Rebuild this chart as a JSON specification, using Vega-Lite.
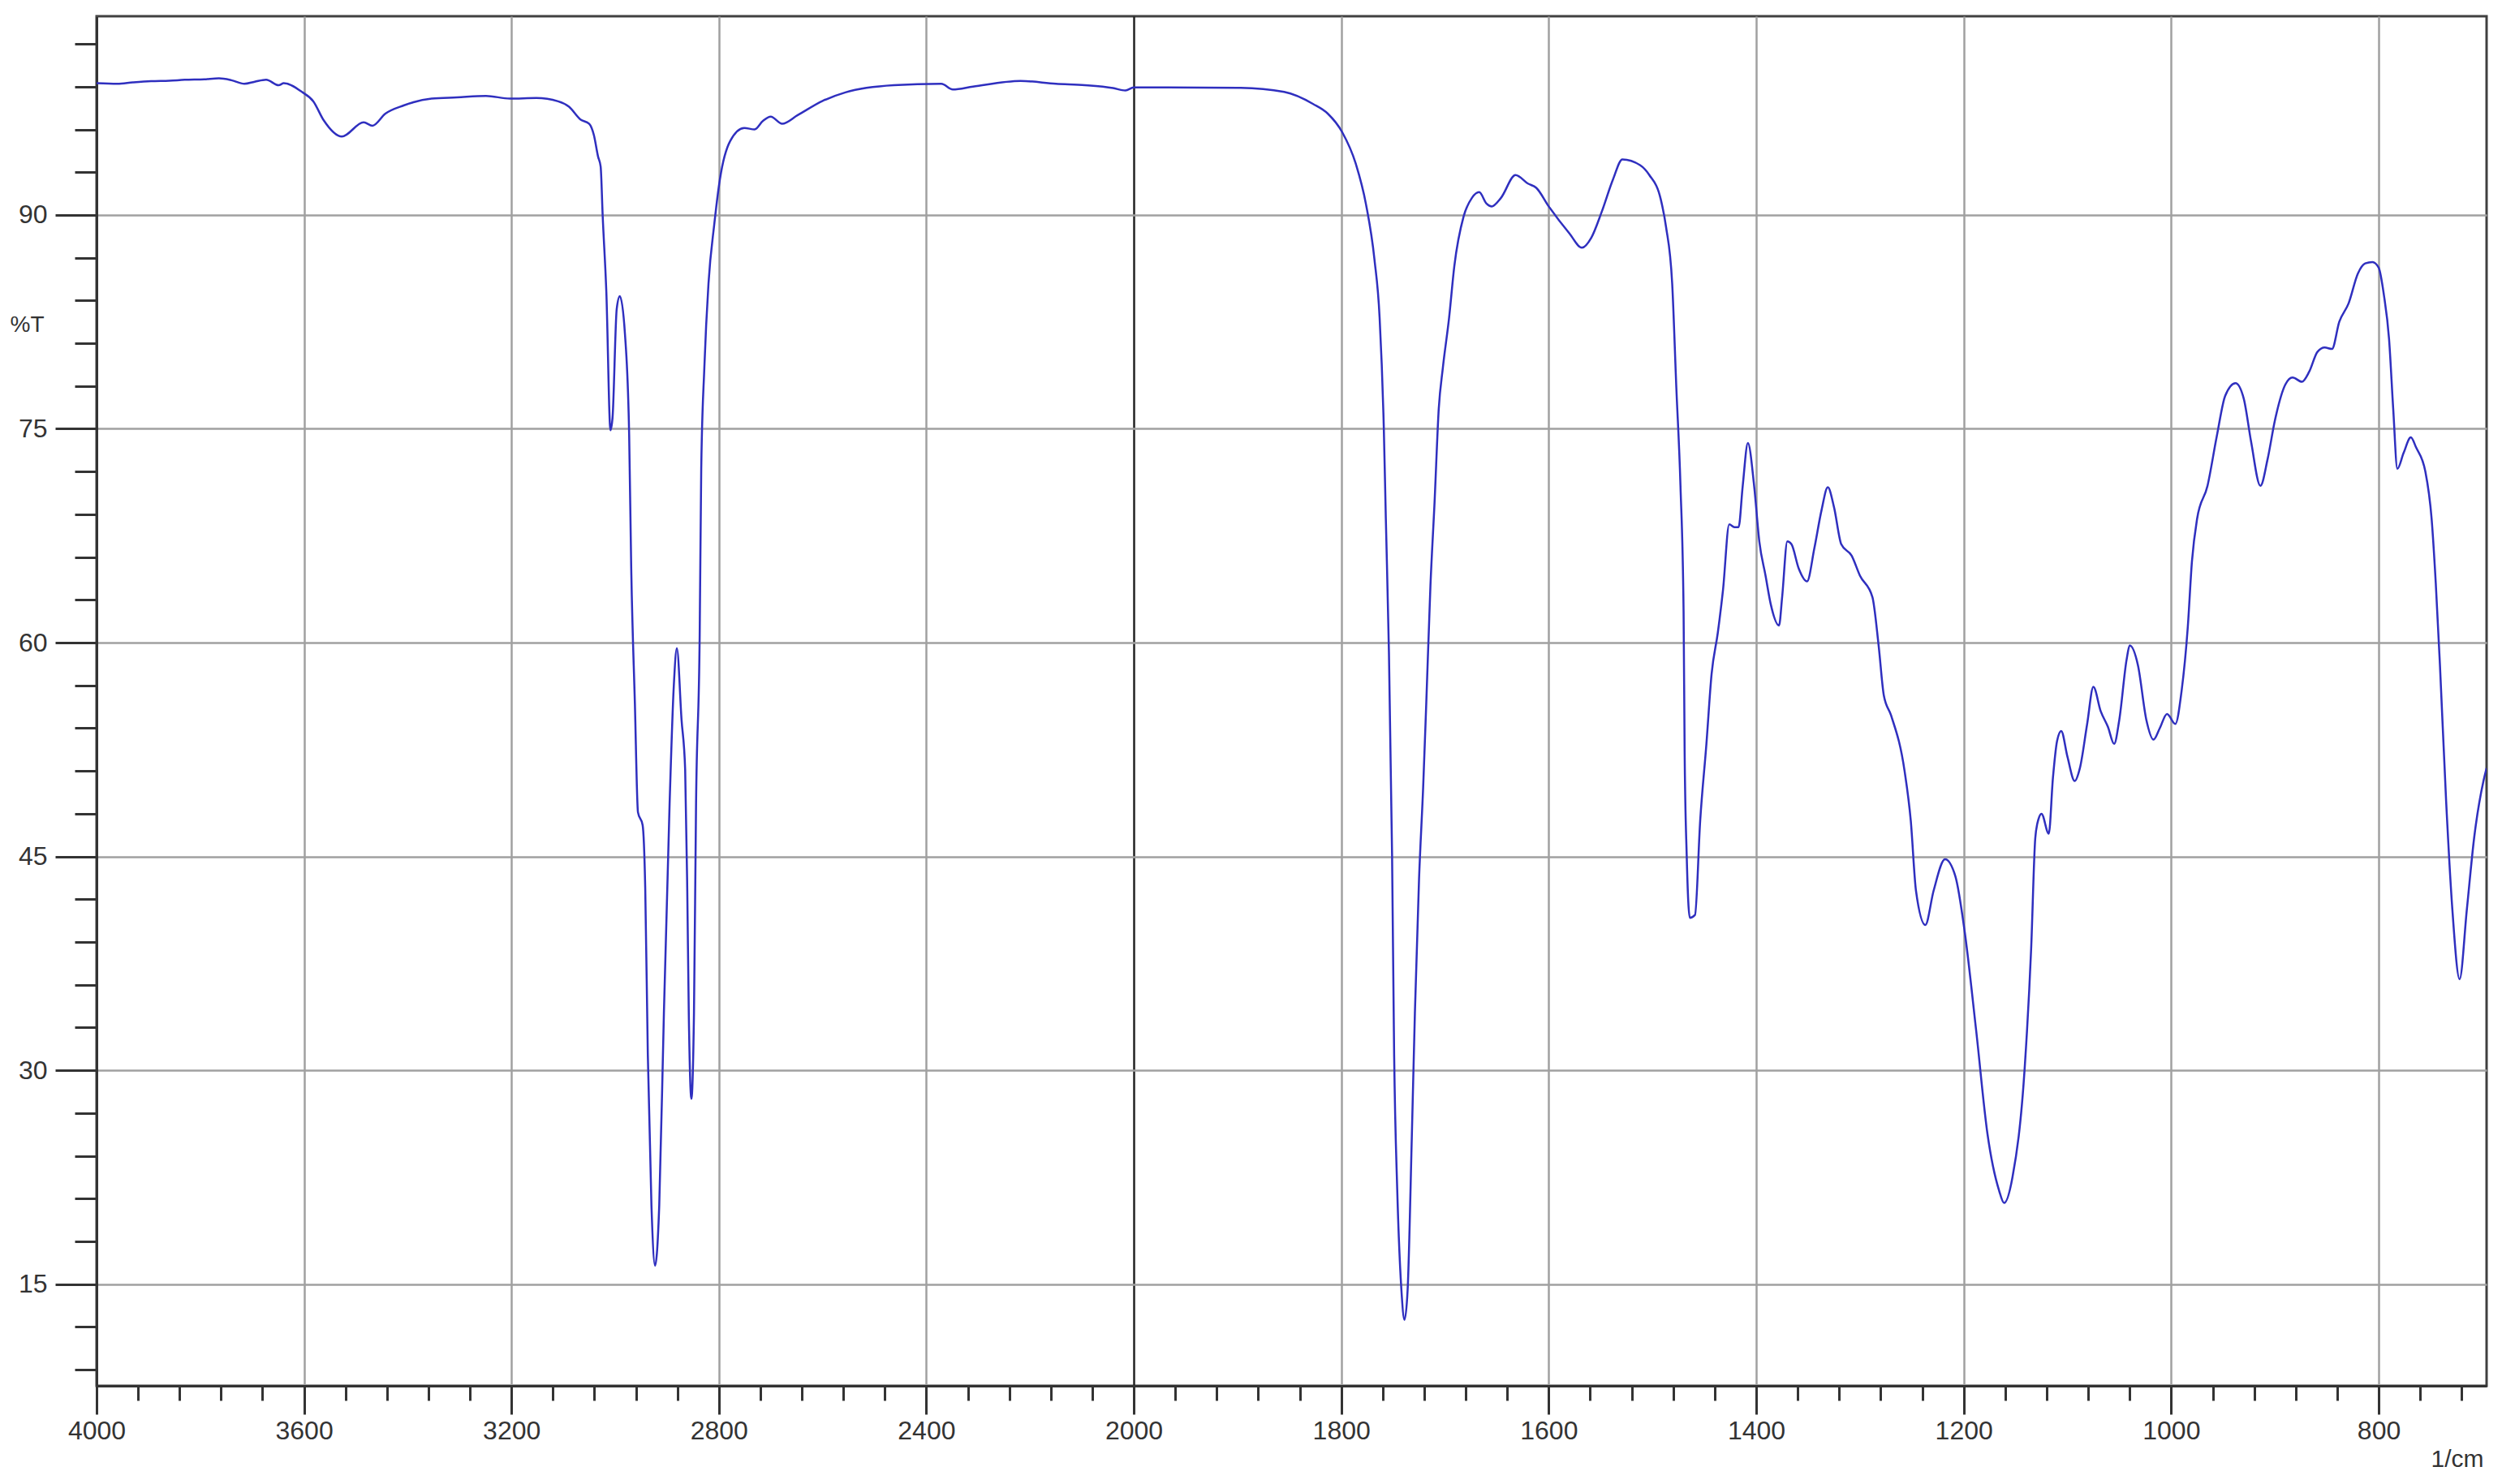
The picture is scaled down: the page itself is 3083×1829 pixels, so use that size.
{
  "$schema": "https://vega.github.io/schema/vega-lite/v6.json",
  "width": 2945,
  "height": 1688,
  "autosize": {"type": "none"},
  "padding": {"left": 119, "top": 20, "right": 19, "bottom": 121},
  "background": "white",
  "config": {
    "view": {"stroke": "#404040", "strokeWidth": 3},
    "axis": {
      "labelFont": "Liberation Sans",
      "labelFontSize": 32,
      "labelColor": "#333333",
      "titleFont": "Liberation Sans",
      "titleFontWeight": "normal",
      "titleColor": "#333333",
      "domainColor": "#333333",
      "domainWidth": 3,
      "tickColor": "#333333",
      "tickWidth": 3,
      "labelOverlap": false,
      "labelBound": false,
      "labelFlush": false
    }
  },
  "data": {
    "values": [
      {"wn": 4000, "T": 99.24}, {"wn": 3960, "T": 99.2}, {"wn": 3930, "T": 99.3}, {"wn": 3895, "T": 99.39}, {"wn": 3860, "T": 99.42},
      {"wn": 3830, "T": 99.48}, {"wn": 3792, "T": 99.52}, {"wn": 3764, "T": 99.58}, {"wn": 3740, "T": 99.45}, {"wn": 3715, "T": 99.2},
      {"wn": 3695, "T": 99.35}, {"wn": 3673, "T": 99.49}, {"wn": 3649, "T": 99.1}, {"wn": 3639, "T": 99.24}, {"wn": 3604, "T": 98.63},
      {"wn": 3582, "T": 97.97}, {"wn": 3562, "T": 96.64}, {"wn": 3527, "T": 95.5}, {"wn": 3485, "T": 96.5}, {"wn": 3468, "T": 96.26},
      {"wn": 3443, "T": 97.11}, {"wn": 3408, "T": 97.68}, {"wn": 3354, "T": 98.16}, {"wn": 3305, "T": 98.25}, {"wn": 3249, "T": 98.35},
      {"wn": 3203, "T": 98.16}, {"wn": 3152, "T": 98.2}, {"wn": 3110, "T": 97.97}, {"wn": 3089, "T": 97.59}, {"wn": 3067, "T": 96.7},
      {"wn": 3050, "T": 96.39}, {"wn": 3041, "T": 95.6}, {"wn": 3033, "T": 94.1}, {"wn": 3028, "T": 93.4}, {"wn": 3024, "T": 89.9},
      {"wn": 3017, "T": 84.6}, {"wn": 3009, "T": 74.9}, {"wn": 3005, "T": 75.8}, {"wn": 2997, "T": 83.4}, {"wn": 2991, "T": 84.3},
      {"wn": 2981, "T": 81.6}, {"wn": 2973, "T": 74.6}, {"wn": 2969, "T": 65.2}, {"wn": 2962, "T": 55.8}, {"wn": 2956, "T": 48.1},
      {"wn": 2947, "T": 47.2}, {"wn": 2942, "T": 42.8}, {"wn": 2937, "T": 31.1}, {"wn": 2930, "T": 20.5}, {"wn": 2923, "T": 16.3},
      {"wn": 2915, "T": 20.5}, {"wn": 2906, "T": 34.0}, {"wn": 2895, "T": 48.7}, {"wn": 2887, "T": 56.9}, {"wn": 2881, "T": 59.6},
      {"wn": 2872, "T": 54.6}, {"wn": 2865, "T": 51.1}, {"wn": 2861, "T": 42.8}, {"wn": 2858, "T": 34.0}, {"wn": 2853, "T": 28.0},
      {"wn": 2848, "T": 34.0}, {"wn": 2844, "T": 48.7}, {"wn": 2837, "T": 60.5}, {"wn": 2834, "T": 72.2}, {"wn": 2828, "T": 79.3},
      {"wn": 2820, "T": 85.2}, {"wn": 2809, "T": 89.3}, {"wn": 2798, "T": 92.5}, {"wn": 2778, "T": 95.2}, {"wn": 2751, "T": 96.1},
      {"wn": 2731, "T": 96.0}, {"wn": 2715, "T": 96.6}, {"wn": 2700, "T": 96.9}, {"wn": 2678, "T": 96.4}, {"wn": 2648, "T": 97.0},
      {"wn": 2600, "T": 98.0}, {"wn": 2556, "T": 98.6}, {"wn": 2463, "T": 99.1}, {"wn": 2371, "T": 99.2}, {"wn": 2349, "T": 98.8},
      {"wn": 2310, "T": 99.0}, {"wn": 2218, "T": 99.4}, {"wn": 2150, "T": 99.2}, {"wn": 2094, "T": 99.1}, {"wn": 2040, "T": 98.9},
      {"wn": 2016, "T": 98.73}, {"wn": 2000, "T": 98.95}, {"wn": 1967, "T": 98.95}, {"wn": 1897, "T": 98.92}, {"wn": 1855, "T": 98.63},
      {"wn": 1827, "T": 97.78}, {"wn": 1813, "T": 97.11}, {"wn": 1799, "T": 95.8}, {"wn": 1786, "T": 93.6}, {"wn": 1776, "T": 90.7},
      {"wn": 1768, "T": 86.9}, {"wn": 1763, "T": 82.8}, {"wn": 1759, "T": 75.2}, {"wn": 1757, "T": 68.7}, {"wn": 1754, "T": 59.3},
      {"wn": 1751, "T": 45.2}, {"wn": 1749, "T": 31.1}, {"wn": 1746, "T": 21.6}, {"wn": 1742, "T": 14.6}, {"wn": 1739, "T": 12.5},
      {"wn": 1736, "T": 14.6}, {"wn": 1732, "T": 25.2}, {"wn": 1729, "T": 34.0}, {"wn": 1725, "T": 43.4}, {"wn": 1721, "T": 49.9},
      {"wn": 1718, "T": 55.8}, {"wn": 1714, "T": 64.0}, {"wn": 1710, "T": 69.9}, {"wn": 1706, "T": 76.4}, {"wn": 1702, "T": 79.3},
      {"wn": 1696, "T": 82.8}, {"wn": 1691, "T": 86.4}, {"wn": 1682, "T": 89.9}, {"wn": 1674, "T": 91.2}, {"wn": 1667, "T": 91.6},
      {"wn": 1660, "T": 90.8}, {"wn": 1655, "T": 90.6}, {"wn": 1646, "T": 91.2}, {"wn": 1632, "T": 92.8}, {"wn": 1620, "T": 92.2},
      {"wn": 1612, "T": 91.9}, {"wn": 1600, "T": 90.6}, {"wn": 1580, "T": 88.7}, {"wn": 1568, "T": 87.7}, {"wn": 1559, "T": 88.4},
      {"wn": 1549, "T": 90.2}, {"wn": 1538, "T": 92.5}, {"wn": 1529, "T": 93.9}, {"wn": 1512, "T": 93.5}, {"wn": 1503, "T": 92.8},
      {"wn": 1492, "T": 91.1}, {"wn": 1487, "T": 89.2}, {"wn": 1481, "T": 85.2}, {"wn": 1477, "T": 77.9}, {"wn": 1473, "T": 71.0},
      {"wn": 1470, "T": 62.2}, {"wn": 1469, "T": 52.4}, {"wn": 1467, "T": 45.1}, {"wn": 1464, "T": 40.7}, {"wn": 1459, "T": 40.9},
      {"wn": 1454, "T": 47.5}, {"wn": 1448, "T": 52.9}, {"wn": 1443, "T": 57.8}, {"wn": 1437, "T": 60.7}, {"wn": 1432, "T": 63.7},
      {"wn": 1426, "T": 68.3}, {"wn": 1421, "T": 68.1}, {"wn": 1417, "T": 68.1}, {"wn": 1413, "T": 71.0}, {"wn": 1408, "T": 74.0},
      {"wn": 1402, "T": 71.0}, {"wn": 1397, "T": 67.1}, {"wn": 1391, "T": 64.7}, {"wn": 1386, "T": 62.7}, {"wn": 1378, "T": 61.2},
      {"wn": 1375, "T": 63.2}, {"wn": 1370, "T": 67.1}, {"wn": 1366, "T": 66.9}, {"wn": 1359, "T": 65.2}, {"wn": 1351, "T": 64.3},
      {"wn": 1344, "T": 66.6}, {"wn": 1337, "T": 69.3}, {"wn": 1331, "T": 70.9}, {"wn": 1325, "T": 69.5}, {"wn": 1318, "T": 66.9},
      {"wn": 1308, "T": 66.1}, {"wn": 1300, "T": 64.7}, {"wn": 1288, "T": 63.2}, {"wn": 1282, "T": 59.8}, {"wn": 1277, "T": 56.3},
      {"wn": 1270, "T": 54.9}, {"wn": 1257, "T": 51.0}, {"wn": 1251, "T": 47.5}, {"wn": 1246, "T": 42.6}, {"wn": 1237, "T": 40.2},
      {"wn": 1229, "T": 42.6}, {"wn": 1218, "T": 44.8}, {"wn": 1208, "T": 43.6}, {"wn": 1199, "T": 39.7}, {"wn": 1188, "T": 32.8},
      {"wn": 1177, "T": 25.5}, {"wn": 1166, "T": 21.6}, {"wn": 1161, "T": 20.7}, {"wn": 1153, "T": 22.5}, {"wn": 1141, "T": 30.4},
      {"wn": 1135, "T": 38.5}, {"wn": 1131, "T": 46.3}, {"wn": 1128, "T": 47.6}, {"wn": 1125, "T": 48.0}, {"wn": 1118, "T": 46.6},
      {"wn": 1114, "T": 50.5}, {"wn": 1110, "T": 53.1}, {"wn": 1106, "T": 53.8}, {"wn": 1100, "T": 52.0}, {"wn": 1093, "T": 50.3},
      {"wn": 1088, "T": 51.2}, {"wn": 1081, "T": 54.3}, {"wn": 1075, "T": 56.9}, {"wn": 1068, "T": 55.2}, {"wn": 1061, "T": 54.1},
      {"wn": 1055, "T": 52.9}, {"wn": 1050, "T": 54.6}, {"wn": 1043, "T": 58.8}, {"wn": 1040, "T": 59.8}, {"wn": 1032, "T": 58.4},
      {"wn": 1024, "T": 54.6}, {"wn": 1017, "T": 53.2}, {"wn": 1011, "T": 54.0}, {"wn": 1004, "T": 55.0}, {"wn": 996, "T": 54.3},
      {"wn": 990, "T": 56.6}, {"wn": 984, "T": 61.1}, {"wn": 980, "T": 65.7}, {"wn": 975, "T": 68.7}, {"wn": 965, "T": 71.0},
      {"wn": 956, "T": 74.5}, {"wn": 948, "T": 77.3}, {"wn": 938, "T": 78.2}, {"wn": 930, "T": 77.1}, {"wn": 923, "T": 74.1},
      {"wn": 914, "T": 71.0}, {"wn": 907, "T": 72.9}, {"wn": 900, "T": 75.6}, {"wn": 890, "T": 78.1}, {"wn": 883, "T": 78.6},
      {"wn": 874, "T": 78.3}, {"wn": 867, "T": 79.0}, {"wn": 859, "T": 80.4}, {"wn": 852, "T": 80.7}, {"wn": 845, "T": 80.6},
      {"wn": 838, "T": 82.5}, {"wn": 829, "T": 83.8}, {"wn": 820, "T": 85.9}, {"wn": 813, "T": 86.6}, {"wn": 806, "T": 86.7},
      {"wn": 800, "T": 86.3}, {"wn": 795, "T": 84.4}, {"wn": 790, "T": 81.3}, {"wn": 786, "T": 76.4}, {"wn": 782, "T": 72.2},
      {"wn": 776, "T": 73.3}, {"wn": 769, "T": 74.4}, {"wn": 764, "T": 73.7}, {"wn": 755, "T": 72.0}, {"wn": 749, "T": 68.7},
      {"wn": 745, "T": 64.2}, {"wn": 741, "T": 58.5}, {"wn": 735, "T": 48.9}, {"wn": 729, "T": 41.3}, {"wn": 722, "T": 36.4},
      {"wn": 715, "T": 41.3}, {"wn": 708, "T": 46.3}, {"wn": 699, "T": 50.3}, {"wn": 696, "T": 51.2}
    ]
  },
  "mark": {"type": "line", "color": "#2f2fbf", "strokeWidth": 2.5, "interpolate": "monotone", "clip": true},
  "encoding": {
    "x": {
      "field": "wn",
      "type": "quantitative",
      "scale": {"domain": [4000, 2000, 696], "range": [0, 1278, 2945], "nice": false, "zero": false},
      "axis": {
        "values": [4000, 3920, 3840, 3760, 3680, 3600, 3520, 3440, 3360, 3280, 3200, 3120, 3040, 2960, 2880, 2800, 2720, 2640, 2560, 2480, 2400, 2320, 2240, 2160, 2080, 2000, 1960, 1920, 1880, 1840, 1800, 1760, 1720, 1680, 1640, 1600, 1560, 1520, 1480, 1440, 1400, 1360, 1320, 1280, 1240, 1200, 1160, 1120, 1080, 1040, 1000, 960, 920, 880, 840, 800, 760, 720],
        "format": "d",
        "labelExpr": "(datum.value % 400 == 0 || (datum.value <= 2000 && datum.value % 200 == 0)) ? datum.label : ''",
        "labelPadding": 5,
        "tickSize": {"condition": {"test": "datum.value % 400 == 0 || (datum.value <= 2000 && datum.value % 200 == 0)", "value": 35}, "value": 18},
        "grid": true,
        "gridColor": {"condition": {"test": "datum.value == 2000", "value": "#222222"}, "value": "#a0a0a0"},
        "gridOpacity": {"condition": {"test": "datum.value % 400 == 0 || (datum.value <= 2000 && datum.value % 200 == 0)", "value": 1}, "value": 0},
        "gridWidth": 2.5,
        "title": "1/cm",
        "titleFontSize": 30,
        "titleX": 2941,
        "titleY": 99,
        "titleAlign": "right",
        "titleBaseline": "alphabetic"
      }
    },
    "y": {
      "field": "T",
      "type": "quantitative",
      "scale": {"domain": [7.87, 103.94], "nice": false, "zero": false},
      "axis": {
        "values": [9, 12, 15, 18, 21, 24, 27, 30, 33, 36, 39, 42, 45, 48, 51, 54, 57, 60, 63, 66, 69, 72, 75, 78, 81, 84, 87, 90, 93, 96, 99, 102],
        "labelExpr": "datum.value % 15 == 0 ? datum.label : ''",
        "labelPadding": 10,
        "tickSize": {"condition": {"test": "datum.value % 15 == 0", "value": 51}, "value": 27},
        "grid": true,
        "gridColor": "#a0a0a0",
        "gridOpacity": {"condition": {"test": "datum.value % 15 == 0", "value": 1}, "value": 0},
        "gridWidth": 2.5,
        "title": "%T",
        "titleFontSize": 28,
        "titleAngle": 0,
        "titleX": -107,
        "titleY": 380,
        "titleAlign": "left",
        "titleBaseline": "middle"
      }
    }
  }
}
